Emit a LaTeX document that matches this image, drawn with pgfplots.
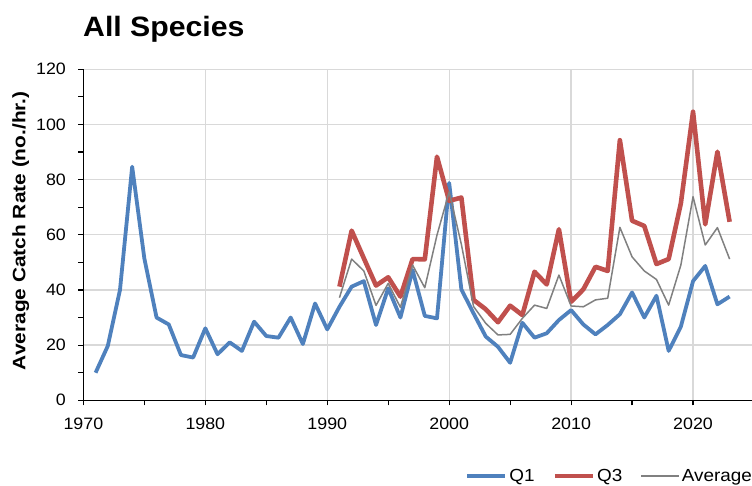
\documentclass[border=0pt]{standalone}
\usepackage{fontspec}
\setmainfont{Liberation Sans}[FakeStretch=1.08]
\newfontfamily\ylabfont{Liberation Sans}[FakeStretch=1.16]
\usepackage{pgfplots}
\pgfplotsset{compat=1.18}

\definecolor{qone}{HTML}{4F81BD}
\definecolor{qthree}{HTML}{C0504D}
\definecolor{avgc}{HTML}{808080}
\definecolor{gridc}{HTML}{D9D9D9}

% Catch rate by year (no./hr.)
\pgfplotstableread{
year rate
1971 10
1972 19.7
1973 40
1974 84.7
1975 51.4
1976 30
1977 27.5
1978 16.4
1979 15.5
1980 26.1
1981 16.7
1982 21
1983 17.9
1984 28.5
1985 23.3
1986 22.7
1987 30
1988 20.4
1989 35.1
1990 25.7
1991 33.9
1992 41.2
1993 43.2
1994 27.3
1995 40.6
1996 30
1997 47.2
1998 30.6
1999 29.7
2000 78.8
2001 40.2
2002 31.5
2003 23.1
2004 19.4
2005 13.6
2006 28.1
2007 22.7
2008 24.3
2009 29.1
2010 32.7
2011 27.5
2012 23.9
2013 27.3
2014 31.2
2015 39.1
2016 30
2017 37.9
2018 17.9
2019 26.7
2020 43.2
2021 48.7
2022 34.8
2023 37.6
}\qone

\pgfplotstableread{
year rate
1991 41.2
1992 61.5
1993 51.5
1994 41.6
1995 44.6
1996 37.6
1997 51.2
1998 51.1
1999 88.3
2000 72.3
2001 73.5
2002 36.4
2003 33
2004 28.3
2005 34.3
2006 30.9
2007 46.6
2008 42
2009 62
2010 35.7
2011 40.2
2012 48.4
2013 46.9
2014 94.3
2015 65.1
2016 63.2
2017 49.4
2018 51.2
2019 71.4
2020 104.6
2021 63.8
2022 90.1
2023 64.7
}\qthree

\pgfplotstableread{
year rate
1991 37.2
1992 51.2
1993 46.9
1994 34.4
1995 42.4
1996 33.7
1997 49
1998 40.8
1999 59.9
2000 75.6
2001 56.5
2002 34
2003 27.9
2004 23.7
2005 23.9
2006 29.7
2007 34.5
2008 33.3
2009 45.4
2010 34.2
2011 33.9
2012 36.4
2013 37
2014 62.7
2015 52
2016 46.9
2017 43.8
2018 34.5
2019 49
2020 73.8
2021 56.3
2022 62.6
2023 51.2
}\qavg

\begin{document}
\begin{tikzpicture}
\begin{axis}[
  at={(83.4pt,85.7pt)}, anchor=south west,
  scale only axis, width=670.6pt, height=331pt,
  xmin=1970, xmax=2025, ymin=0, ymax=120,
  axis x line*=bottom, axis y line*=left,
  axis line style={-, black, line width=1.2pt},
  xtick={1970,1980,...,2020}, ytick={0,20,...,120},
  minor x tick num=1, minor y tick num=1,
  tick align=outside, major tick length=5pt, minor tick length=5pt,
  tick style={black, line width=1.2pt},
  xmajorgrids, ymajorgrids,
  grid style={gridc, line width=1.3pt},
  tick label style={font=\fontsize{16.5}{19}\selectfont},
  yticklabel style={xshift=-9pt},
  xticklabel style={yshift=-9pt},
  /pgf/number format/assume math mode=true,
  /pgf/number format/1000 sep={},
  ylabel={\ylabfont\bfseries Average Catch Rate (no./hr.)},
  ylabel style={font=\fontsize{18}{21}\selectfont,
    at={(axis description cs:-0.0935,0.512)}, anchor=center},
  legend style={at={(axis description cs:0.5695,-0.229)}, anchor=west,
    draw=none, fill=none, legend columns=-1, inner sep=0pt,
    nodes={inner xsep=0pt},
    font=\fontsize{17.5}{20}\selectfont,
    /tikz/every odd column/.append style={column sep=2pt},
    /tikz/every even column/.append style={column sep=18pt}},
  legend image code/.code={\draw[#1] (0pt,0pt) -- (38pt,0pt);},
  line join=round,
]
\addplot[qone, line width=3.8pt] table[x=year, y=rate] {\qone};
\addplot[qthree, line width=4.6pt] table[x=year, y=rate] {\qthree};
\addplot[avgc, line width=1.5pt] table[x=year, y=rate] {\qavg};
\legend{Q1, Q3, Average}
\end{axis}
\node[anchor=base west, inner sep=0pt, font=\bfseries\fontsize{28}{32}\selectfont]
  at (83pt,449pt) {All Species};
\pgfresetboundingbox
\path[use as bounding box] (0,0) rectangle (752pt,486pt);
\end{tikzpicture}
\end{document}
